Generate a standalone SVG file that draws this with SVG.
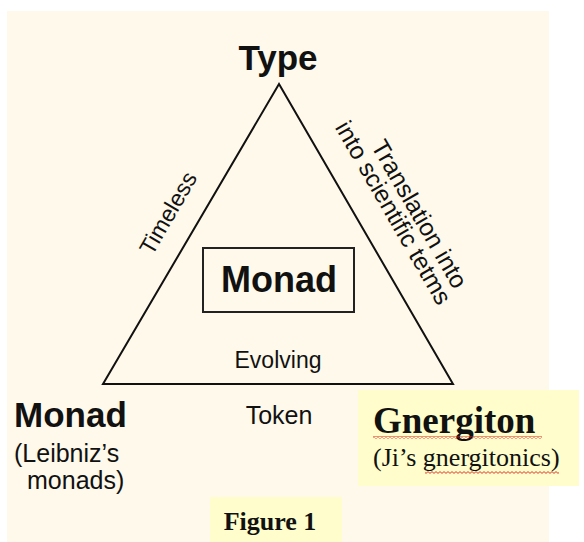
<svg xmlns="http://www.w3.org/2000/svg" width="584" height="542" viewBox="0 0 584 542">
<style>
.sans{font-family:"Liberation Sans",Arial,sans-serif;fill:#111}
.bold{font-weight:bold}
.serif{font-family:"Liberation Serif","Times New Roman",serif;fill:#111}
.edge{fill:none;stroke:#111;stroke-width:2;stroke-linejoin:miter}
.note{fill:#FEFDCB}
</style>
<defs>
<pattern id="squiggle" x="0" y="0" width="4" height="3" patternUnits="userSpaceOnUse">
<polyline points="0,0.6 2,2.4 4,0.6" fill="none" stroke="#E0201A" stroke-width="0.9"/>
</pattern>
</defs>
<rect x="0" y="0" width="584" height="542" fill="#FFFFFF"/>
<rect x="7" y="11" width="542" height="531" fill="#FEF9EA"/>

<g id="connectors">
<polygon class="edge" points="279,84 103,384 453,384"/>
<text class="sans" font-size="23" text-anchor="middle" transform="translate(175,217) rotate(-60)">Timeless</text>
<text class="sans" font-size="24.5" text-anchor="middle" transform="rotate(60)"><tspan x="395" y="-248">Translation into</tspan><tspan x="381" y="-226">into scientific tetms</tspan></text>
<text class="sans" font-size="23" x="278" y="368" text-anchor="middle">Evolving</text>
</g>

<g id="type">
<text class="sans bold" font-size="35" x="278" y="70" text-anchor="middle">Type</text>
</g>

<g id="monad-center">
<rect x="203" y="248" width="151" height="64" fill="none" stroke="#222" stroke-width="2"/>
<text class="sans bold" font-size="36" x="279" y="292" text-anchor="middle">Monad</text>
</g>

<g id="monad-left">
<text class="sans bold" font-size="35" x="14" y="427">Monad</text>
<text class="sans" font-size="25" x="14" y="462">(Leibniz’s</text>
<text class="sans" font-size="25" x="27" y="489">monads)</text>
</g>

<g id="token">
<text class="sans" font-size="25" x="279" y="424" text-anchor="middle">Token</text>
</g>

<g id="gnergiton">
<rect class="note" x="358" y="390" width="221" height="96"/>
<text class="serif bold" font-size="37" x="373" y="433">Gnergiton</text>
<rect x="373" y="436" width="169" height="3" fill="url(#squiggle)"/>
<text class="serif" font-size="26" x="373" y="466">(Ji’s gnergitonics)</text>
<rect x="425" y="471" width="134" height="3" fill="url(#squiggle)"/>
</g>

<g id="figure-label">
<rect class="note" x="210" y="497" width="132" height="45"/>
<text class="serif bold" font-size="26" x="270" y="530" text-anchor="middle">Figure 1</text>
</g>
</svg>
